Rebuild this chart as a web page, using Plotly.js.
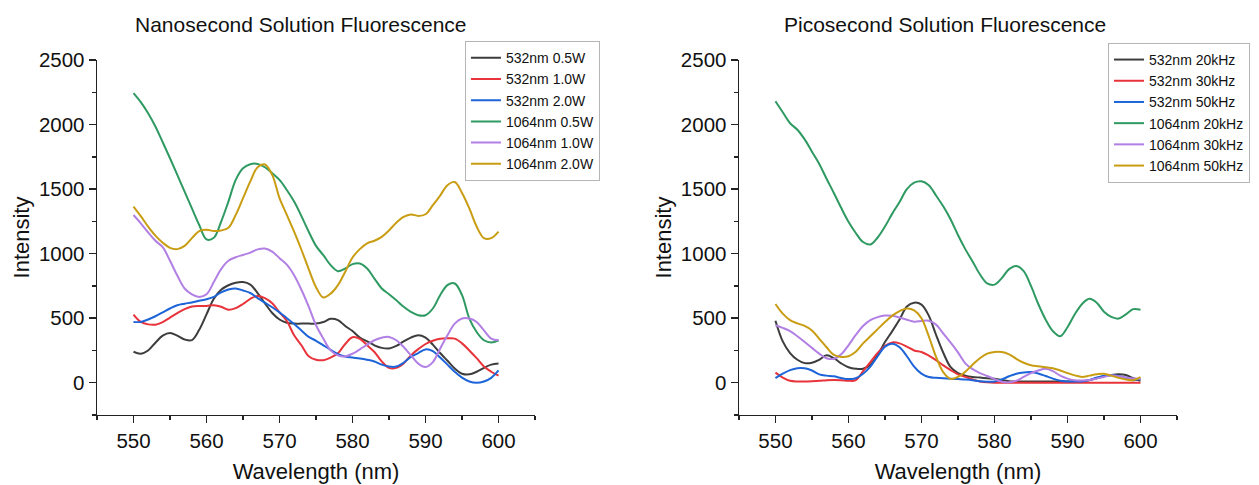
<!DOCTYPE html>
<html>
<head>
<meta charset="utf-8">
<script src="https://cdn.plot.ly/plotly-3.0.1.min.js"></script>
<style>html,body{margin:0;padding:0;background:#fff;}#chart{width:1259px;height:485px;}</style>
</head>
<body>
<div id="chart"></div>
<script>
// ---------- data ----------
const wavelength = [550,551,552,553,554,555,556,557,558,559,560,561,562,563,564,565,566,567,568,569,570,571,572,573,574,575,576,577,578,579,580,581,582,583,584,585,586,587,588,589,590,591,592,593,594,595,596,597,598,599,600];

// Nanosecond
const ns_names = ["532nm 0.5W","532nm 1.0W","532nm 2.0W","1064nm 0.5W","1064nm 1.0W","1064nm 2.0W"];
const ns_532_05 = [240,225,250,310,365,385,365,335,330,410,530,650,720,755,775,780,760,695,615,540,490,465,458,458,458,458,470,495,485,440,400,350,320,290,270,265,285,320,350,368,350,295,230,170,110,70,65,85,115,140,148];
const ns_532_10 = [528,471,452,450,470,505,540,570,590,595,595,600,588,565,578,610,650,672,655,615,545,478,367,290,205,178,175,195,228,300,352,340,290,238,165,115,115,150,212,260,300,325,340,344,342,305,250,190,125,85,55];
const ns_532_20 = [471,471,490,515,545,575,600,612,622,635,647,665,700,722,730,715,695,655,620,585,545,500,455,405,355,325,290,255,222,203,195,188,178,165,140,125,125,155,200,230,258,245,195,140,85,40,10,0,10,38,95];
const ns_1064_05 = [2244,2174,2088,1985,1863,1739,1610,1480,1351,1222,1110,1123,1247,1403,1571,1661,1693,1695,1669,1623,1571,1493,1403,1291,1170,1060,988,911,864,885,919,924,885,807,730,686,639,588,549,523,523,575,678,756,769,678,497,393,329,311,329];
const ns_1064_10 = [1299,1235,1165,1100,1050,945,830,730,685,665,685,780,880,945,972,990,1008,1033,1040,1015,965,915,833,720,590,445,342,251,212,204,225,259,295,329,349,355,329,277,212,148,122,160,264,367,458,497,497,471,406,342,329];
const ns_1064_20 = [1364,1290,1210,1140,1085,1045,1035,1060,1120,1175,1185,1175,1180,1200,1300,1430,1560,1670,1690,1610,1430,1300,1170,1030,880,740,660,690,756,860,970,1035,1080,1100,1130,1180,1240,1285,1304,1292,1305,1375,1450,1530,1555,1470,1350,1210,1120,1120,1170];

// Picosecond
const ps_names = ["532nm 20kHz","532nm 30kHz","532nm 50kHz","1064nm 20kHz","1064nm 30kHz","1064nm 50kHz"];
const ps_532_20 = [480,320,230,178,152,155,178,212,190,150,120,108,108,140,215,315,400,490,590,620,605,520,370,230,120,75,55,45,40,35,30,20,12,10,10,10,10,10,10,10,10,10,12,20,35,50,60,65,60,35,15];
const ps_532_30 = [78,40,15,10,10,12,15,20,22,20,15,20,90,160,230,285,312,305,280,250,238,210,175,135,98,65,45,25,10,3,0,0,0,0,0,0,0,0,0,0,0,0,0,0,0,0,0,0,0,0,0];
const ps_532_50 = [35,70,98,113,112,95,65,55,50,36,28,35,70,125,205,280,302,275,205,125,70,44,38,34,31,28,25,20,12,8,10,25,50,70,80,83,72,52,32,15,10,10,10,20,40,55,58,52,38,20,28];
const ps_1064_20 = [2180,2095,2010,1960,1885,1790,1695,1580,1470,1355,1247,1160,1090,1071,1125,1210,1310,1400,1500,1550,1560,1530,1450,1365,1265,1144,1035,940,840,770,760,810,880,905,865,750,610,490,400,360,430,530,610,650,620,550,510,497,530,570,565];
const ps_1064_30 = [445,425,400,360,316,270,225,190,185,220,290,370,440,485,508,520,518,505,488,473,478,480,450,380,310,235,150,105,75,52,28,8,3,15,45,75,95,108,90,55,32,20,18,22,32,45,57,50,40,32,31];
const ps_1064_50 = [610,535,485,460,440,405,340,275,215,200,205,240,305,360,415,470,520,555,575,560,500,360,200,80,30,45,85,140,190,225,238,238,220,185,155,135,127,120,112,95,75,57,45,55,65,70,55,38,25,20,44];

const colors = ["#3d3d3d","#e8333a","#1c64d8","#2e9a62","#b27fe4","#c99d12"];
const ns_series = [ns_532_05, ns_532_10, ns_532_20, ns_1064_05, ns_1064_10, ns_1064_20];
const ps_series = [ps_532_20, ps_532_30, ps_532_50, ps_1064_20, ps_1064_30, ps_1064_50];

// ---------- traces ----------
const traces = [];
ns_series.forEach((s, i) => {
  traces.push({x: wavelength, y: s, name: ns_names[i], type: 'scatter', mode: 'lines',
    line: {color: colors[i], width: 2, shape: 'spline', smoothing: 1},
    xaxis: 'x', yaxis: 'y', legend: 'legend'});
});
ps_series.forEach((s, i) => {
  traces.push({x: wavelength, y: s, name: ps_names[i], type: 'scatter', mode: 'lines',
    line: {color: colors[i], width: 2, shape: 'spline', smoothing: 1},
    xaxis: 'x2', yaxis: 'y2', legend: 'legend2'});
});

// ---------- layout ----------
const axisCommon = {
  showline: true, linecolor: '#222', linewidth: 1.4, mirror: false,
  ticks: 'outside', ticklen: 7, tickwidth: 1.4, tickcolor: '#222',
  showgrid: false, zeroline: false,
  tickfont: {size: 20.5, color: '#111'}
};
function xAxis(domain, anchor) {
  return Object.assign({}, axisCommon, {
    domain: domain, anchor: anchor, range: [545, 605], tick0: 550, dtick: 10,
    minor: {dtick: 5, tick0: 550, ticks: 'outside', ticklen: 4, tickwidth: 1.4, tickcolor: '#222', showgrid: false},
    title: {text: 'Wavelength (nm)', font: {size: 22, color: '#111'}, standoff: 12}
  });
}
function yAxis(anchor) {
  return Object.assign({}, axisCommon, {
    anchor: anchor, range: [-250, 2500], tick0: 0, dtick: 500,
    minor: {dtick: 250, tick0: 0, ticks: 'outside', ticklen: 4, tickwidth: 1.4, tickcolor: '#222', showgrid: false},
    title: {text: 'Intensity', font: {size: 22, color: '#111'}, standoff: 3}
  });
}
const legendCommon = {
  bgcolor: '#ffffff', bordercolor: '#b5b5b5', borderwidth: 1,
  font: {size: 14, color: '#111'}, xanchor: 'left', yanchor: 'top',
  xref: 'paper', yref: 'paper', tracegroupgap: 0, itemwidth: 30
};

const layout = {
  width: 1259, height: 485,
  margin: {l: 97, r: 82, t: 60, b: 70, autoexpand: false},
  paper_bgcolor: '#ffffff', plot_bgcolor: '#ffffff',
  font: {family: 'Liberation Sans, Arial, sans-serif', color: '#111'},
  showlegend: true,
  xaxis: xAxis([0, 0.4056], 'y'),
  yaxis: yAxis('x'),
  xaxis2: xAxis([0.5944, 1], 'y2'),
  yaxis2: yAxis('x2'),
  legend: Object.assign({}, legendCommon, {x: 0.3407, y: 1.053}),
  legend2: Object.assign({}, legendCommon, {x: 0.9361, y: 1.048}),
  annotations: [
    {text: 'Nanosecond Solution Fluorescence', xref: 'paper', yref: 'paper', x: 0.1889, y: 1.0986,
     xanchor: 'center', yanchor: 'middle', showarrow: false, font: {size: 21, color: '#111'}},
    {text: 'Picosecond Solution Fluorescence', xref: 'paper', yref: 'paper', x: 0.7852, y: 1.0986,
     xanchor: 'center', yanchor: 'middle', showarrow: false, font: {size: 21, color: '#111'}}
  ]
};

Plotly.newPlot('chart', traces, layout, {displayModeBar: false, staticPlot: true});
</script>
</body>
</html>
